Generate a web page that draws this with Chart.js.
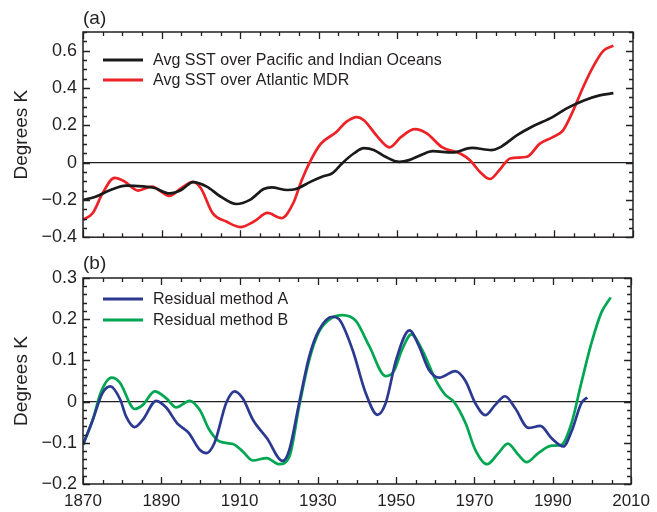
<!DOCTYPE html>
<html>
<head>
<meta charset="utf-8">
<script src="https://cdn.jsdelivr.net/npm/chart.js@4/dist/chart.umd.min.js"></script>
<style>
  body { margin: 0; background: #fff; }
  .panel { position: absolute; left: 0; width: 657px; }
  #panelA { top: 0; height: 254px; }
  #panelB { top: 250px; height: 262px; }
</style>
</head>
<body>
<div class="panel" id="panelA"><canvas id="chartA"></canvas></div>
<div class="panel" id="panelB"><canvas id="chartB"></canvas></div>
<script>
// panel (a): smoothed SST anomalies
const pacYears = [1870, 1873, 1877, 1881, 1883, 1888, 1892, 1895, 1898, 1901.5, 1905, 1909, 1912.5, 1916, 1918, 1922, 1924, 1928, 1931, 1933.5, 1936, 1939, 1941.5, 1944, 1947, 1950.5, 1953, 1956, 1959, 1964, 1969, 1974, 1976, 1980.5, 1984.5, 1989.5, 1993, 1997.5, 2001.5, 2005];
const pacSst = [-0.2, -0.185, -0.147, -0.124, -0.125, -0.135, -0.165, -0.147, -0.105, -0.129, -0.182, -0.222, -0.2, -0.142, -0.133, -0.147, -0.143, -0.102, -0.075, -0.056, -0.003, 0.05, 0.077, 0.068, 0.031, 0.004, 0.013, 0.04, 0.061, 0.054, 0.079, 0.067, 0.08, 0.147, 0.195, 0.244, 0.289, 0.333, 0.36, 0.372];

const atlYears = [1870, 1872.5, 1875, 1878, 1880.5, 1884, 1887.5, 1892, 1895, 1898, 1900, 1903, 1906.5, 1910, 1913.5, 1917, 1920.5, 1923.5, 1925.7, 1928, 1930.5, 1934.5, 1937, 1939.7, 1941.5, 1945, 1948, 1951, 1954.5, 1957.5, 1961.5, 1966, 1968.5, 1971, 1973.6, 1976, 1978.7, 1983, 1986.3, 1989.7, 1992.2, 1994.8, 1997.3, 2000, 2002.5, 2005];
const atlSst = [-0.307, -0.27, -0.164, -0.082, -0.1, -0.15, -0.129, -0.179, -0.137, -0.103, -0.137, -0.271, -0.316, -0.346, -0.316, -0.27, -0.298, -0.218, -0.093, 0.013, 0.1, 0.164, 0.218, 0.244, 0.227, 0.138, 0.082, 0.138, 0.179, 0.156, 0.081, 0.049, 0.013, -0.049, -0.088, -0.04, 0.022, 0.031, 0.102, 0.138, 0.173, 0.28, 0.404, 0.52, 0.6, 0.627];

// panel (b): residuals
const resAYears = [1870, 1872.5, 1875, 1877, 1879.5, 1881, 1883.2, 1885.3, 1888.7, 1891.3, 1894, 1897, 1899.8, 1901.5, 1903.6, 1906.6, 1908.7, 1910.8, 1913.4, 1917, 1921, 1922.7, 1925.2, 1927.8, 1930.3, 1933.7, 1935.4, 1938.8, 1942.2, 1945.2, 1947.3, 1950, 1953.4, 1955.8, 1958.3, 1961, 1965.1, 1967.7, 1970.2, 1972.8, 1975.3, 1977.8, 1980.4, 1983.8, 1986.8, 1989.7, 1992.7, 1994.8, 1997.3, 1998.8];
const resA = [-0.105, -0.044, 0.021, 0.037, 0.005, -0.036, -0.062, -0.044, 0.002, -0.015, -0.052, -0.076, -0.117, -0.125, -0.1, -0.003, 0.025, 0.008, -0.044, -0.089, -0.144, -0.117, -0.004, 0.11, 0.174, 0.206, 0.2, 0.127, 0.021, -0.032, -0.004, 0.102, 0.173, 0.135, 0.078, 0.058, 0.074, 0.05, -0.004, -0.033, -0.008, 0.013, -0.016, -0.064, -0.059, -0.089, -0.109, -0.072, -0.004, 0.01];

const resBYears = [1870, 1872.5, 1874.5, 1877.3, 1879.4, 1883.2, 1885.3, 1888.3, 1891.3, 1893.8, 1897.2, 1899.8, 1902.3, 1904.9, 1908.3, 1910.8, 1913.4, 1916.9, 1920.1, 1922.7, 1925.2, 1927.8, 1930.3, 1933.7, 1936.2, 1939.7, 1943.1, 1947.3, 1949.4, 1951.5, 1953.9, 1956.6, 1960, 1962.5, 1964.7, 1967.7, 1970.2, 1973.2, 1976.1, 1978.5, 1981.2, 1983.3, 1986.3, 1989.7, 1992.2, 1994.8, 1997.3, 1999.9, 2002.4, 2004.8];
const resB = [-0.105, -0.044, 0.021, 0.058, 0.046, -0.018, -0.008, 0.025, 0.008, -0.014, 0.002, -0.02, -0.069, -0.097, -0.103, -0.121, -0.143, -0.137, -0.152, -0.134, -0.012, 0.102, 0.17, 0.204, 0.21, 0.196, 0.135, 0.062, 0.074, 0.126, 0.163, 0.126, 0.054, 0.017, 0.0, -0.052, -0.117, -0.152, -0.125, -0.102, -0.129, -0.147, -0.125, -0.107, -0.105, -0.052, 0.046, 0.143, 0.216, 0.253];

const xTickYears = [1870, 1890, 1910, 1930, 1950, 1970, 1990, 2010];

const FONT = '"Liberation Sans", Arial, Helvetica, sans-serif';
const INK = '#231f20';

const toPoints = (xs, ys) => xs.map((x, i) => ({ x: x, y: ys[i] }));

const fmt = (v) => {
  if (Math.abs(v) < 1e-9) return '0';
  return (v < 0 ? '\u2212' : '') + Math.abs(v).toFixed(1);
};

// frame, inward ticks, panel tag and legend
const decor = {
  id: 'decor',
  afterDatasetsDraw(chart, args, opts) {
    const { ctx, chartArea: a, scales } = chart;
    const xs = scales.x, ys = scales.y;
    ctx.save();
    ctx.strokeStyle = INK;
    ctx.lineWidth = 1.3;
    ctx.beginPath();
    // x ticks every 5 years, longer every 20
    for (let yr = 1870; yr <= 2010; yr += 5) {
      const px = Math.round(xs.getPixelForValue(yr)) + 0.5;
      const len = (yr - 1870) % 20 === 0 ? 7 : 4;
      ctx.moveTo(px, a.bottom); ctx.lineTo(px, a.bottom - len);
      ctx.moveTo(px, a.top); ctx.lineTo(px, a.top + len);
    }
    // y ticks
    const n = Math.round((ys.max - ys.min) / opts.minor);
    for (let i = 0; i <= n; i++) {
      const v = ys.min + i * opts.minor;
      const py = Math.round(ys.getPixelForValue(v)) + 0.5;
      const isMajor = Math.abs(v / opts.major - Math.round(v / opts.major)) < 1e-6;
      const len = isMajor ? 7 : 4;
      ctx.moveTo(a.left, py); ctx.lineTo(a.left + len, py);
      ctx.moveTo(a.right, py); ctx.lineTo(a.right - len, py);
    }
    ctx.stroke();
    ctx.lineWidth = 1.5;
    ctx.strokeRect(a.left, a.top, a.right - a.left, a.bottom - a.top);

    // panel tag
    ctx.fillStyle = INK;
    ctx.font = '19px ' + FONT;
    ctx.textBaseline = 'middle';
    ctx.textAlign = 'left';
    ctx.fillText(opts.tag, a.left, opts.tagY);

    // legend
    ctx.font = '16px ' + FONT;
    chart.data.datasets.forEach((ds, i) => {
      const y = opts.legendY[i];
      ctx.strokeStyle = ds.borderColor;
      ctx.lineWidth = 3;
      ctx.beginPath();
      ctx.moveTo(103, y); ctx.lineTo(143, y);
      ctx.stroke();
      ctx.fillStyle = INK;
      ctx.fillText(ds.label, 153, y + 1);
    });
    ctx.restore();
  }
};

const makeChart = (id, datasets, cfg) => {
  const ctx = document.getElementById(id).getContext('2d');
  return new Chart(ctx, {
    type: 'line',
    data: { datasets: datasets },
    options: {
      responsive: true,
      maintainAspectRatio: false,
      animation: false,
      layout: { padding: { left: 0, right: 24, top: cfg.padTop, bottom: 0 } },
      elements: {
        point: { radius: 0 },
        line: { borderWidth: 2.7, cubicInterpolationMode: 'monotone' }
      },
      plugins: {
        legend: { display: false },
        tooltip: { enabled: false },
        decor: cfg.decor
      },
      scales: {
        x: {
          type: 'linear',
          min: 1870,
          max: 2010,
          afterFit: (s) => { s.height = cfg.xHeight; },
          afterBuildTicks: (s) => { s.ticks = xTickYears.map(v => ({ value: v })); },
          grid: { display: false, drawTicks: false },
          border: { display: false },
          ticks: {
            display: cfg.showX,
            padding: 7,
            color: INK,
            font: { family: FONT, size: 17 },
            maxRotation: 0,
            callback: (v) => String(v)
          }
        },
        y: {
          min: cfg.yMin,
          max: cfg.yMax,
          afterFit: (s) => { s.width = 83; },
          grid: {
            drawTicks: false,
            lineWidth: 1.3,
            color: (c) => (c.tick && Math.abs(c.tick.value) < 1e-9 ? INK : 'rgba(0,0,0,0)')
          },
          border: { display: false },
          title: {
            display: true,
            text: 'Degrees K',
            color: INK,
            font: { family: FONT, size: 19 },
            padding: { top: 10, bottom: 0 }
          },
          ticks: {
            stepSize: cfg.step,
            includeBounds: false,
            padding: 6,
            color: INK,
            font: { family: FONT, size: 18 },
            callback: fmt
          }
        }
      }
    },
    plugins: [decor]
  });
};

makeChart('chartA', [
  { label: 'Avg SST over Pacific and Indian Oceans', data: toPoints(pacYears, pacSst), borderColor: '#1a1a1a' },
  { label: 'Avg SST over Atlantic MDR', data: toPoints(atlYears, atlSst), borderColor: '#ec2227' }
], {
  padTop: 32, xHeight: 13, showX: false, yMin: -0.4, yMax: 0.7, step: 0.2,
  decor: { tag: '(a)', tagY: 19, legendY: [60, 80], minor: 0.05, major: 0.2 }
});

makeChart('chartB', [
  { label: 'Residual method A', data: toPoints(resAYears, resA), borderColor: '#2b3990' },
  { label: 'Residual method B', data: toPoints(resBYears, resB), borderColor: '#00a651' }
], {
  padTop: 28, xHeight: 28, showX: true, yMin: -0.2, yMax: 0.3, step: 0.1,
  decor: { tag: '(b)', tagY: 14, legendY: [49, 70], minor: 0.02, major: 0.1 }
});
</script>
</body>
</html>
